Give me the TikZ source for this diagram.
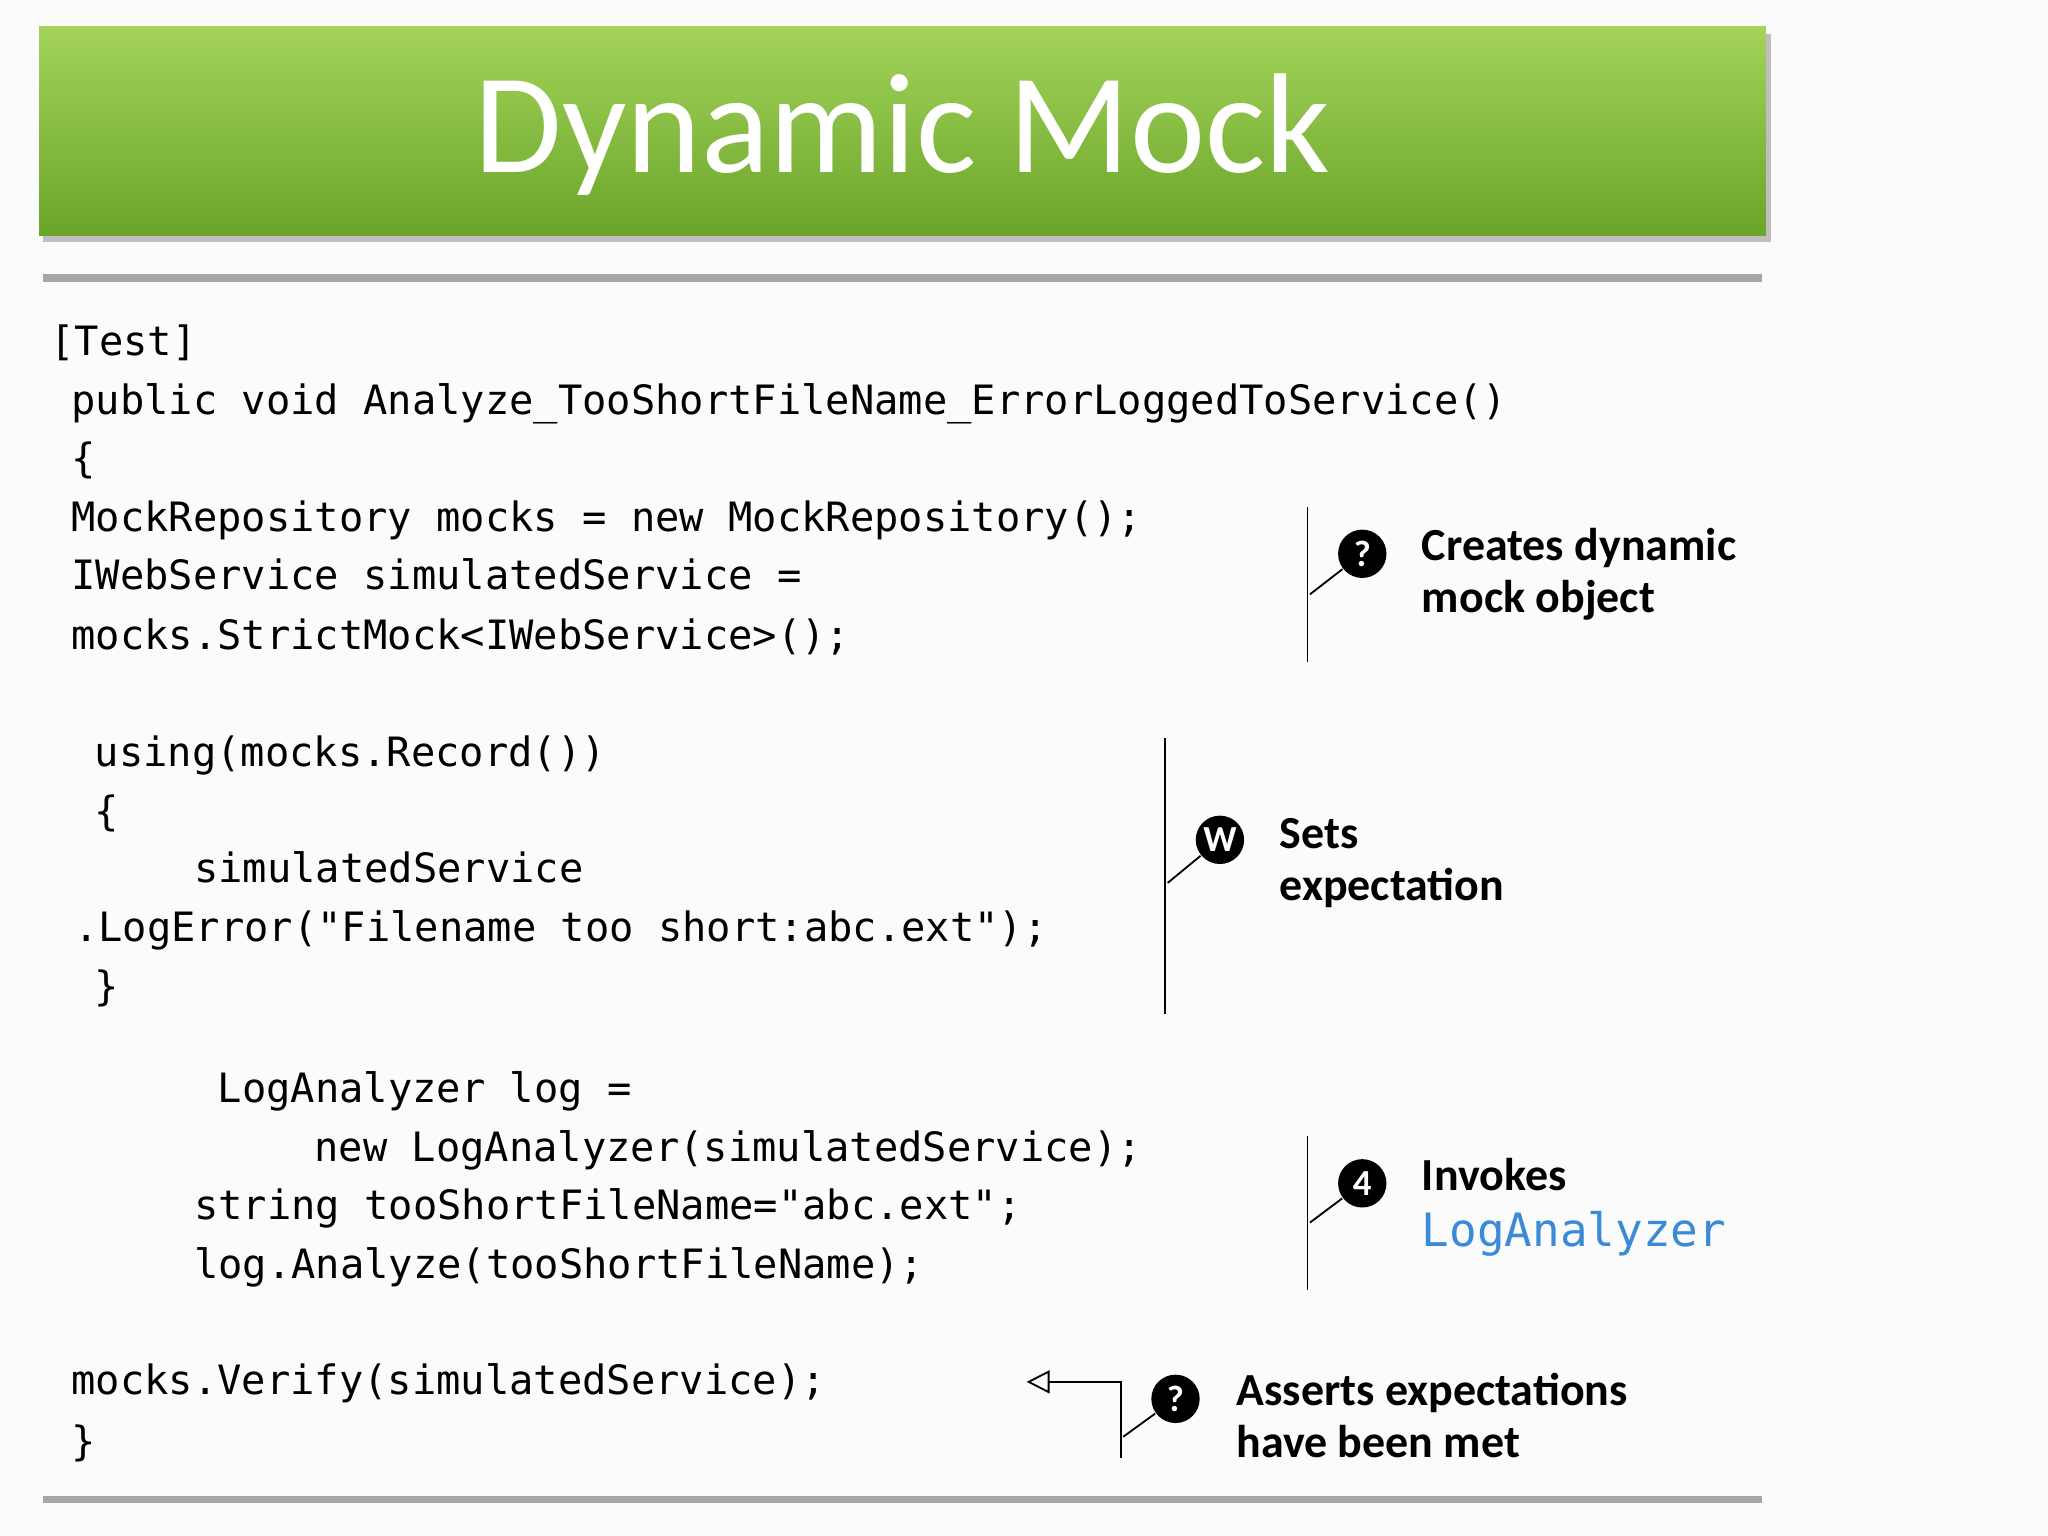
\documentclass[tikz,border=0pt]{standalone}
\usepackage{fontspec}
\setmainfont{Carlito}
\newfontfamily\codefont{DejaVu Sans Mono}
\usetikzlibrary{arrows.meta}
\definecolor{gtop}{HTML}{A4D35A}
\definecolor{gbot}{HTML}{6AA52A}
\definecolor{lnk}{HTML}{3A8AD8}
\begin{document}
\begin{tikzpicture}[x=0.01cm,y=-0.01cm,
 code/.style={anchor=base west,inner sep=0,font=\codefont\fontsize{8.8}{10}\selectfont},
 note/.style={anchor=north west,inner sep=0,align=left,font=\bfseries\fontsize{10}{11.3}\selectfont},
 bub/.style={circle,fill=black,text=white,inner sep=0,minimum size=0.37cm,font=\bfseries\fontsize{8}{8}\selectfont},
 rule/.style={line width=1.7pt,gray!70}]
\useasboundingbox (0,0) rectangle (1568,1176);
\fill[white!97!gray] (0,0) rectangle (1568,1176);
\fill[black!25] (33,26) rectangle (1356,185);
\shade[top color=gtop,bottom color=gbot] (30,20) rectangle (1352,180);
\node[text=white,font=\fontsize{31}{36}\selectfont] (title) at (691,103) {Dynamic Mock};
\draw[rule] (33,213) -- (1349,213);
\draw[rule] (33,1148) -- (1349,1148);
\node[code] (l1) at (38,272) {[Test]};
\node[code] (l2) at (54,317) {public void Analyze\_TooShortFileName\_ErrorLoggedToService()};
\node[code] (l3) at (54,362) {\{};
\node[code] (l4) at (54,407) {MockRepository mocks = new MockRepository();};
\node[code] (l5) at (54,451) {IWebService simulatedService =};
\node[code] (l6) at (54,497) {mocks.StrictMock<IWebService>();};
\node[code] (l7) at (72,587) {using(mocks.Record())};
\node[code] (l8) at (72,632) {\{};
\node[code] (l9) at (148,676) {simulatedService};
\node[code] (l10) at (56,721) {.LogError("Filename too short:abc.ext");};
\node[code] (l11) at (72,766) {\}};
\node[code] (l12) at (166,844) {LogAnalyzer log =};
\node[code] (l13) at (240,889) {new LogAnalyzer(simulatedService);};
\node[code] (l14) at (148,934) {string tooShortFileName="abc.ext";};
\node[code] (l15) at (148,979) {log.Analyze(tooShortFileName);};
\node[code] (l16) at (54,1068) {mocks.Verify(simulatedService);};
\node[code] (l17) at (54,1114) {\}};
% callout 1
\coordinate (a1) at (1001,388); \coordinate (a2) at (1001,507); \coordinate (a3) at (1003,455);
\draw (a1) -- (a2);
\node[bub] (b1) at (1043,424) {?};
\draw (b1) -- (a3);
\node[note] (n1) at (1088,404) {Creates dynamic\\mock object};
% callout 2
\coordinate (c1) at (892,565); \coordinate (c2) at (892,776); \coordinate (c3) at (894,676);
\draw (c1) -- (c2);
\node[bub] (b2) at (934,643) {W};
\draw (b2) -- (c3);
\node[note] (n2) at (979,626) {Sets\\expectation};
% callout 3
\coordinate (d1) at (1001,870); \coordinate (d2) at (1001,988); \coordinate (d3) at (1003,936);
\draw (d1) -- (d2);
\node[bub] (b3) at (1043,906) {4};
\draw (b3) -- (d3);
\node[note] (n3) at (1088,886) {Invokes\\[1pt]{\mdseries\codefont\color{lnk}LogAnalyzer}};
% callout 4
\coordinate (e1) at (858,1058); \coordinate (e2) at (858,1116); \coordinate (e3) at (786,1058); \coordinate (e4) at (860,1100);
\draw[-{Triangle[open,length=5pt,width=5pt]}] (e2) -- (e1) -- (e3);
\node[bub] (b4) at (900,1071) {?};
\draw (b4) -- (e4);
\node[note] (n4) at (946,1051) {Asserts expectations\\have been met};
\end{tikzpicture}
\end{document}
